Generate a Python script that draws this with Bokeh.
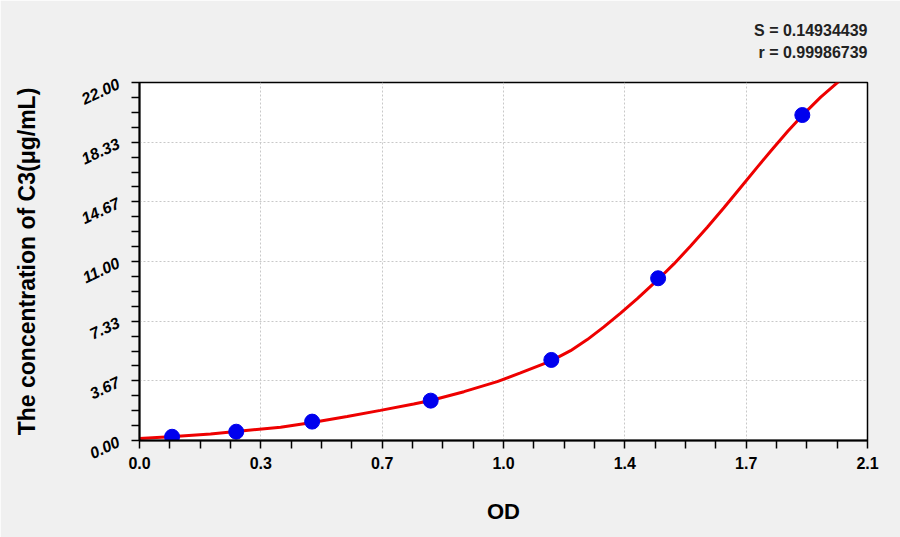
from bokeh.plotting import figure
from bokeh.models import FixedTicker, Title, Range1d
from bokeh.embed import file_html
from bokeh.resources import INLINE

# Standard points (OD, concentration)
od_points = [0.094, 0.279, 0.498, 0.840, 1.188, 1.496, 1.912]
conc_points = [0.23, 0.54, 1.16, 2.45, 4.95, 9.97, 20.0]

# Fitted curve
curve_od = [0.0, 0.10, 0.205, 0.30, 0.407, 0.498, 0.599, 0.695, 0.791, 0.84, 0.936,
            1.032, 1.099, 1.186, 1.2435, 1.2917, 1.3396, 1.3878, 1.436, 1.4937, 1.5416,
            1.5897, 1.6379, 1.6858, 1.734, 1.7822, 1.8205, 1.87, 1.92, 1.965, 2.027]
curve_conc = [0.13, 0.25, 0.40, 0.60, 0.81, 1.10, 1.47, 1.85, 2.24, 2.46, 3.0,
              3.62, 4.15, 4.88, 5.52, 6.20, 6.98, 7.83, 8.72, 9.85, 10.85,
              11.95, 13.10, 14.30, 15.55, 16.80, 17.78, 19.00, 20.15, 21.10, 22.25]

x_ticks = [0.0, 0.35, 0.70, 1.05, 1.40, 1.75, 2.10]
x_tick_labels = ["0.0", "0.3", "0.7", "1.0", "1.4", "1.7", "2.1"]
y_ticks = [0.0, 22 / 6, 44 / 6, 11.0, 88 / 6, 110 / 6, 22.0]
y_tick_labels = ["0.00", "3.67", "7.33", "11.00", "14.67", "18.33", "22.00"]

stat_lines = ["S = 0.14934439", "r = 0.99986739"]
x_title = "OD"
y_title = "The concentration of C3(μg/mL)"

FONT = "Liberation Sans"
BG = "#f0f0f0"

p = figure(width=900, height=537, output_backend="svg", toolbar_location=None,
           x_range=Range1d(0, 2.1), y_range=Range1d(0, 22),
           min_border_left=139, min_border_right=33, min_border_top=82, min_border_bottom=97)
p.background_fill_color = "white"
p.border_fill_color = BG
p.outline_line_color = "black"
p.outline_line_width = 1.5

def minor_list(ticks):
    out = []
    for a, b in zip(ticks[:-1], ticks[1:]):
        for k in (1, 2, 3):
            out.append(a + (b - a) * k / 4)
    return out

p.xaxis.ticker = FixedTicker(ticks=x_ticks, minor_ticks=minor_list(x_ticks))
p.yaxis.ticker = FixedTicker(ticks=y_ticks, minor_ticks=minor_list(y_ticks))
p.xaxis.major_label_overrides = {t: s for t, s in zip(x_ticks, x_tick_labels)}
p.yaxis.major_label_overrides = {t: s for t, s in zip(y_ticks, y_tick_labels)}

for ax in (p.xaxis, p.yaxis):
    ax.axis_line_color = "black"
    ax.axis_line_width = 2
    ax.major_tick_line_color = "black"
    ax.minor_tick_line_color = "black"
    ax.major_tick_line_width = 1.5
    ax.minor_tick_line_width = 1.5
    ax.major_tick_in = 0
    ax.major_tick_out = 8
    ax.minor_tick_in = 0
    ax.minor_tick_out = 8
    ax.major_label_text_font = FONT
    ax.major_label_text_font_style = "bold"
    ax.major_label_text_color = "black"
    ax.major_label_text_font_size = "16px"
    ax.axis_label_text_font = FONT
    ax.axis_label_text_font_style = "bold"
    ax.axis_label_text_color = "black"

p.xaxis.axis_label = x_title
p.xaxis.axis_label_text_font_size = "22px"
p.xaxis.axis_label_standoff = 27
p.xaxis.major_label_standoff = 8

p.yaxis.axis_label = y_title
p.yaxis.axis_label_text_font_size = "23px"
p.yaxis.axis_label_standoff = 34
p.yaxis.major_label_orientation = 0.44
p.yaxis.major_label_text_font_style = "bold italic"
p.yaxis.major_label_standoff = 13

p.grid.grid_line_color = "#c8c8c8"
p.grid.grid_line_dash = "2 2"
p.grid.grid_line_width = 1

p.line(curve_od, curve_conc, line_color="#ee0000", line_width=3)
p.scatter(od_points, conc_points, size=15, fill_color="#0000ee", line_color="#0000ee")

# stats block, right-aligned (no-break space pads the shorter line)
stats = Title(text=stat_lines[0] + "\n\u00a0" + stat_lines[1], align="right", text_font=FONT,
              text_font_style="bold", text_font_size="16px", text_color="#222222",
              text_line_height=1.35, standoff=38, vertical_align="top")
p.add_layout(stats, "above")

open("out.html", "w").write(file_html(p, INLINE))
